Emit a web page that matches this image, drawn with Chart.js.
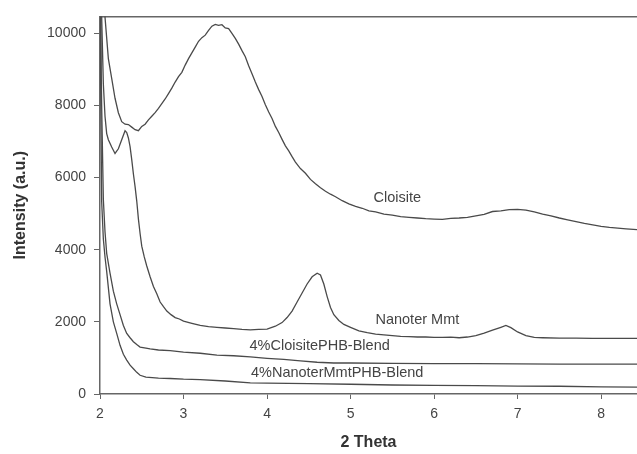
<!DOCTYPE html>
<html>
<head>
<meta charset="utf-8">
<script src="https://cdn.jsdelivr.net/npm/chart.js@4.4.1/dist/chart.umd.min.js"></script>
<style>
html,body{margin:0;padding:0;background:#fff;}
#wrap{width:637px;height:454px;position:relative;}
</style>
</head>
<body>
<div id="wrap"><canvas id="c"></canvas></div>
<script>
// ---- data ----
const xTickValues = [2, 3, 4, 5, 6, 7, 8];
const yTickValues = [0, 2000, 4000, 6000, 8000, 10000];

const cloisiteX = [2.04,2.06,2.10,2.14,2.18,2.22,2.26,2.30,2.34,2.38,2.42,2.46,2.50,2.54,2.58,2.62,2.66,2.70,2.74,2.78,2.82,2.86,2.90,2.94,2.98,3.02,3.06,3.10,3.14,3.18,3.22,3.26,3.30,3.34,3.38,3.42,3.46,3.50,3.54,3.58,3.62,3.66,3.70,3.74,3.78,3.82,3.86,3.90,3.94,3.98,4.02,4.06,4.10,4.14,4.18,4.22,4.26,4.30,4.34,4.40,4.46,4.52,4.58,4.64,4.70,4.76,4.82,4.90,4.98,5.06,5.14,5.22,5.30,5.40,5.50,5.60,5.70,5.80,5.90,6.00,6.10,6.20,6.30,6.40,6.50,6.60,6.70,6.80,6.90,7.00,7.10,7.20,7.30,7.40,7.50,7.60,7.70,7.80,7.90,8.00,8.10,8.20,8.30,8.43];
const cloisiteY = [12000,10450,9300,8750,8200,7800,7550,7480,7470,7400,7330,7300,7420,7480,7600,7700,7800,7920,8050,8180,8330,8480,8650,8800,8920,9120,9300,9460,9620,9780,9880,9950,10080,10200,10250,10220,10240,10150,10130,10000,9860,9700,9520,9350,9100,8880,8650,8440,8250,8020,7820,7640,7420,7250,7060,6880,6740,6580,6430,6250,6120,5950,5830,5720,5620,5540,5470,5360,5270,5200,5150,5080,5050,4990,4960,4920,4900,4880,4860,4850,4840,4870,4880,4900,4940,4980,5060,5080,5110,5120,5100,5050,4990,4940,4880,4830,4780,4730,4690,4650,4620,4600,4580,4560];

const nanoterX = [2.00,2.02,2.04,2.06,2.08,2.10,2.14,2.18,2.22,2.26,2.30,2.32,2.34,2.36,2.38,2.40,2.42,2.44,2.46,2.48,2.50,2.53,2.56,2.60,2.64,2.68,2.72,2.76,2.80,2.85,2.90,2.95,3.00,3.10,3.20,3.30,3.40,3.50,3.60,3.70,3.80,3.90,4.00,4.10,4.18,4.24,4.30,4.36,4.42,4.48,4.54,4.60,4.64,4.68,4.72,4.76,4.80,4.86,4.92,5.00,5.10,5.20,5.30,5.40,5.50,5.60,5.70,5.80,5.90,6.00,6.10,6.20,6.30,6.40,6.50,6.60,6.70,6.80,6.86,6.92,7.00,7.10,7.20,7.30,7.50,7.70,7.90,8.10,8.30,8.43];
const nanoterY = [12000,10470,8600,7700,7220,7050,6850,6670,6800,7050,7300,7250,7100,6860,6500,6100,5750,5350,4850,4450,4100,3800,3550,3250,2980,2780,2550,2420,2300,2200,2120,2080,2020,1960,1900,1870,1850,1830,1810,1790,1780,1790,1800,1880,1980,2120,2300,2550,2800,3050,3250,3350,3300,3050,2700,2400,2200,2040,1930,1850,1750,1700,1660,1640,1620,1600,1590,1580,1580,1570,1570,1575,1560,1580,1620,1690,1770,1850,1900,1840,1720,1620,1570,1560,1550,1550,1545,1540,1540,1540];

const cloisiteBlendX = [2.00,2.02,2.04,2.06,2.08,2.12,2.16,2.20,2.24,2.28,2.32,2.36,2.40,2.44,2.48,2.55,2.60,2.70,2.84,3.00,3.20,3.40,3.60,3.80,4.00,4.20,4.40,4.60,4.80,5.00,5.50,6.00,6.50,7.00,7.50,8.00,8.43];
const cloisiteBlendY = [11500,8000,5400,4500,3900,3350,2850,2500,2200,1900,1680,1560,1450,1370,1300,1270,1250,1220,1200,1160,1130,1080,1060,1030,990,960,920,880,860,860,850,840,840,835,830,830,830];

const nanoterBlendX = [2.00,2.01,2.02,2.04,2.06,2.08,2.12,2.16,2.20,2.24,2.28,2.32,2.36,2.40,2.44,2.48,2.55,2.70,2.84,3.00,3.20,3.50,3.80,4.00,4.50,5.00,5.50,6.00,6.50,7.00,7.50,8.00,8.43];
const nanoterBlendY = [11000,8000,5340,4300,3800,3400,2500,2000,1680,1350,1100,940,800,700,600,520,470,440,430,410,400,360,310,300,290,270,250,240,230,220,215,200,190];

const seriesNames = ['Cloisite', 'Nanoter Mmt', '4%CloisitePHB-Blend', '4%NanoterMmtPHB-Blend'];

// ---- chart ----
const FONT = '"Liberation Sans", Arial, Helvetica, sans-serif';
Chart.defaults.font.family = FONT;

function pts(xs, ys) { return xs.map((x, i) => ({x: x, y: ys[i]})); }

const lineColor = '#4a4a4a';
function ds(label, xs, ys) {
  return {label: label, data: pts(xs, ys), borderColor: lineColor, borderWidth: 1.3,
          pointRadius: 0, tension: 0, fill: false};
}

// curve labels placed in data coordinates
const curveLabels = [
  {text: seriesNames[0], x: 5.56, y: 5430},
  {text: seriesNames[1], x: 5.80, y: 2040},
  {text: seriesNames[2], x: 4.63, y: 1320},
  {text: seriesNames[3], x: 4.84, y: 580}
];

const labelPlugin = {
  id: 'curveLabels',
  afterDatasetsDraw(chart) {
    const ctx = chart.ctx, xs = chart.scales.x, ys = chart.scales.y;
    ctx.save();
    ctx.font = '14.5px ' + FONT;
    ctx.fillStyle = '#444';
    ctx.textAlign = 'center';
    ctx.textBaseline = 'middle';
    curveLabels.forEach(l => ctx.fillText(l.text, xs.getPixelForValue(l.x), ys.getPixelForValue(l.y)));
    ctx.restore();
  }
};

new Chart(document.getElementById('c'), {
  type: 'line',
  data: {
    datasets: [
      ds(seriesNames[0], cloisiteX, cloisiteY),
      ds(seriesNames[1], nanoterX, nanoterY),
      ds(seriesNames[2], cloisiteBlendX, cloisiteBlendY),
      ds(seriesNames[3], nanoterBlendX, nanoterBlendY)
    ]
  },
  options: {
    responsive: true,
    maintainAspectRatio: false,
    animation: false,
    layout: {padding: {left: 0, right: 0, top: 0, bottom: 0}},
    plugins: {legend: {display: false}, tooltip: {enabled: false}},
    scales: {
      x: {
        type: 'linear', position: 'bottom', min: 2, max: 8.43,
        afterBuildTicks: s => { s.ticks = xTickValues.map(v => ({value: v})); },
        afterFit: s => { s.height = 60; },
        grid: {drawOnChartArea: false, drawTicks: true, tickLength: 5, color: '#666'},
        border: {display: true, color: '#666', width: 1.5},
        ticks: {font: {size: 14}, color: '#444', padding: 7, maxRotation: 0},
        title: {display: true, text: '2 Theta', font: {size: 16, weight: 'bold'}, color: '#333', padding: {top: 4, bottom: 2}}
      },
      x2: {
        type: 'linear', position: 'top', min: 2, max: 8.43, display: true,
        afterFit: s => { s.height = 14; },
        grid: {drawOnChartArea: false, drawTicks: false},
        border: {display: true, color: '#666', width: 1.5},
        ticks: {display: false}
      },
      y: {
        type: 'linear', position: 'left', min: 0, max: 10470,
        afterBuildTicks: s => { s.ticks = yTickValues.map(v => ({value: v})); },
        afterFit: s => { s.width = 100; },
        grid: {drawOnChartArea: false, drawTicks: true, tickLength: 6, color: '#666'},
        border: {display: true, color: '#666', width: 1.5},
        ticks: {font: {size: 14}, color: '#444', padding: 8, callback: v => String(v)},
        title: {display: true, text: 'Intensity (a.u.)', font: {size: 16, weight: 'bold'}, color: '#333', padding: {top: 11, bottom: 0}}
      }
    }
  },
  plugins: [labelPlugin]
});
</script>
</body>
</html>
